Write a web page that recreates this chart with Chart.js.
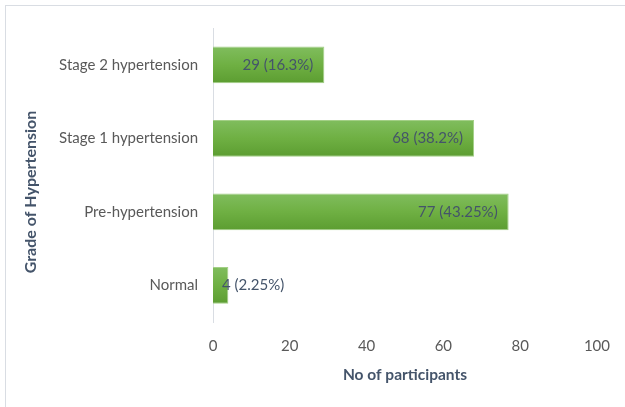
<!DOCTYPE html>
<html>
<head>
<meta charset="utf-8">
<script src="https://cdn.jsdelivr.net/npm/chart.js@4/dist/chart.umd.min.js"></script>
<style>
  html, body { margin: 0; padding: 0; background: #fff; }
  #wrap { position: relative; width: 625px; height: 407px; overflow: hidden; }
  #frame { position: absolute; left: 5px; top: 5px; width: 640px; height: 420px;
           border-top: 1px solid #d9dde3; border-left: 1px solid #d9dde3; box-sizing: border-box; }
  canvas { position: absolute; left: 0; top: 0; }
</style>
</head>
<body>
<div id="wrap">
  <div id="frame"></div>
  <canvas id="hyperChart" width="625" height="407"></canvas>
</div>
<script>
const grades = ['Stage 2 hypertension', 'Stage 1 hypertension', 'Pre-hypertension', 'Normal'];
const participants = [29, 68, 77, 4];
const shares = ['16.3%', '38.2%', '43.25%', '2.25%'];
const xTicks = [0, 20, 40, 60, 80, 100];

const FONT = 'Lato, "Open Sans", sans-serif';
const TEXT = '#44546a';

// vertical green gradient for each bar, set once bars have their positions
const barGradient = {
    id: 'barGradient',
    beforeDatasetsDraw(chart) {
        const c = chart.ctx;
        chart.getDatasetMeta(0).data.forEach(bar => {
            const half = bar.height / 2;
            if (!isFinite(bar.y) || !isFinite(half)) return;
            const g = c.createLinearGradient(0, bar.y - half, 0, bar.y + half);
            g.addColorStop(0, '#80bd5e');
            g.addColorStop(0.5, '#6fb043');
            g.addColorStop(1, '#5c9d31');
            bar.options.backgroundColor = g;
        });
    }
};

// "n (pct)" labels at the inner end of each bar
const valueLabels = {
    id: 'valueLabels',
    afterDatasetsDraw(chart) {
        const c = chart.ctx;
        const meta = chart.getDatasetMeta(0);
        c.save();
        c.font = '15px ' + FONT;
        c.fillStyle = TEXT;
        c.textBaseline = 'middle';
        meta.data.forEach((bar, i) => {
            const text = participants[i] + ' (' + shares[i] + ')';
            const w = c.measureText(text).width;
            if (w + 20 < bar.x - bar.base) {
                c.textAlign = 'right';
                c.fillText(text, bar.x - 11, bar.y);
            } else {
                c.textAlign = 'left';
                c.fillText(text, bar.base + 9, bar.y);
            }
        });
        c.restore();
    }
};

// axis titles
const axisTitles = {
    id: 'axisTitles',
    afterDraw(chart) {
        const c = chart.ctx;
        const area = chart.chartArea;
        c.save();
        c.font = 'bold 15.5px ' + FONT;
        c.fillStyle = TEXT;
        c.textAlign = 'center';
        c.textBaseline = 'middle';
        c.fillText('No of participants', (area.left + area.right) / 2, 375);
        c.translate(31, 192);
        c.rotate(-Math.PI / 2);
        c.font = 'bold 16px ' + FONT;
        c.fillText('Grade of Hypertension', 0, 0);
        c.restore();
    }
};

const ctx = document.getElementById('hyperChart').getContext('2d');
new Chart(ctx, {
    type: 'bar',
    data: {
        labels: grades,
        datasets: [{
            data: participants,
            backgroundColor: () => '#6fb043',
            borderColor: '#a3cf86',
            borderWidth: 1,
            borderSkipped: 'start',
            categoryPercentage: 1,
            barPercentage: 0.5
        }]
    },
    options: {
        indexAxis: 'y',
        responsive: false,
        animation: false,
        layout: { padding: { top: 28, right: 28, left: 0, bottom: 0 } },
        plugins: {
            legend: { display: false },
            tooltip: { enabled: false }
        },
        scales: {
            x: {
                min: 0,
                max: 100,
                afterBuildTicks: (s) => { s.ticks = xTicks.map(v => ({ value: v })); },
                afterFit: (s) => { s.height = 85; },
                grid: { display: false, drawTicks: false },
                border: { display: false },
                ticks: { color: '#595959', font: { family: FONT, size: 15 }, padding: 15 }
            },
            y: {
                afterFit: (s) => { s.width = 213; },
                grid: { display: false, drawTicks: false },
                border: { display: true, color: '#d9dde3', width: 1 },
                ticks: { color: '#595959', font: { family: FONT, size: 15 }, padding: 15 }
            }
        }
    },
    plugins: [barGradient, valueLabels, axisTitles]
});
</script>
</body>
</html>
